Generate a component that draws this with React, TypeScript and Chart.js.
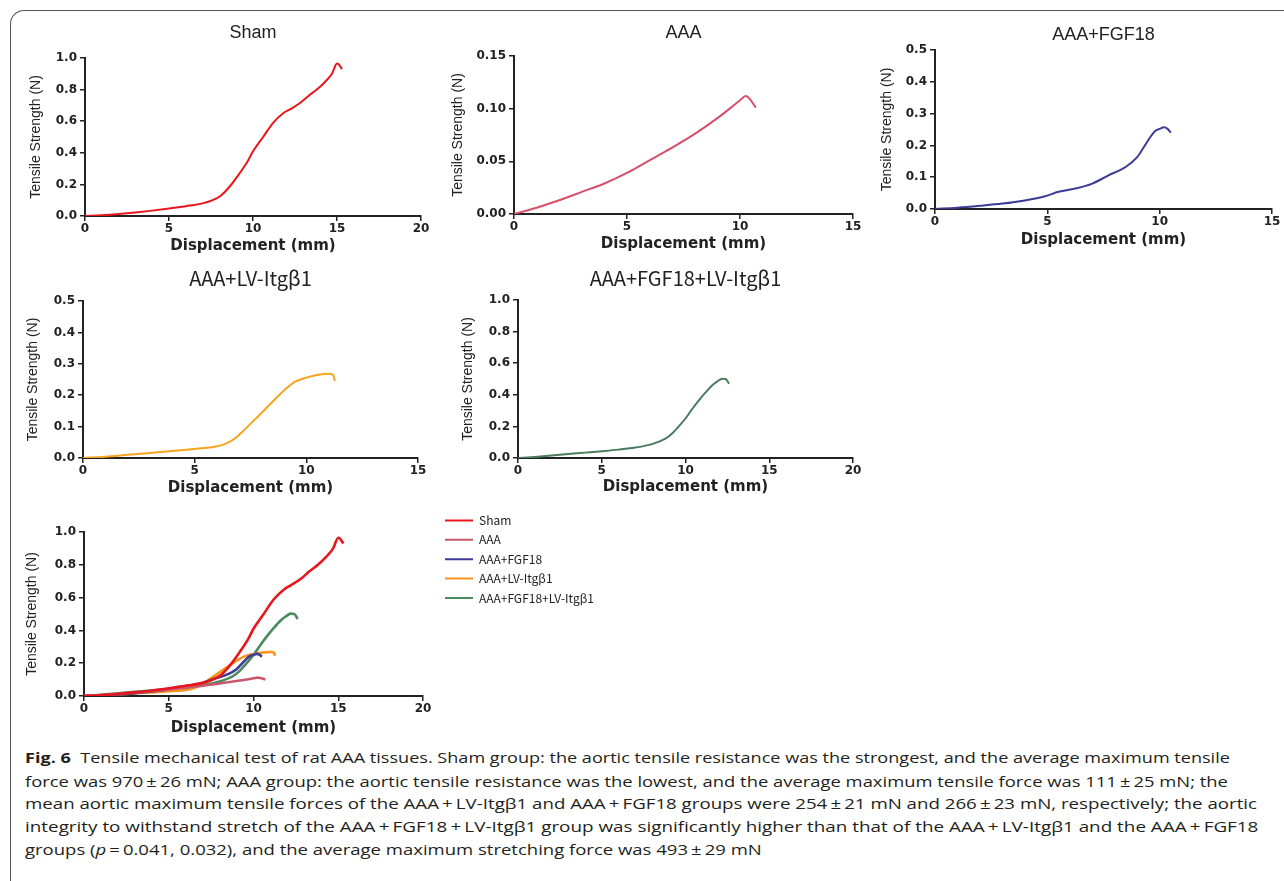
import React, { useEffect, useLayoutEffect, useRef } from 'react';
import { Chart, registerables } from 'chart.js';

Chart.register(...registerables);

// ---------------- data ----------------
const shamX = [0, 1, 2, 3, 4, 5, 6, 7, 7.6, 8.1, 8.6, 9.2, 9.7, 10.0, 10.6, 11.2, 11.8, 12.2, 12.8, 13.3, 13.8, 14.3, 14.7, 15.0, 15.1, 15.3];
const shamY = [0, 0.004, 0.012, 0.022, 0.034, 0.047, 0.062, 0.08, 0.1, 0.13, 0.185, 0.27, 0.35, 0.41, 0.5, 0.59, 0.65, 0.675, 0.715, 0.76, 0.8, 0.85, 0.9, 0.965, 0.96, 0.93];

const aaaX = [0, 1, 2, 3, 4, 5, 6, 7, 8, 9, 9.6, 10.0, 10.25, 10.4, 10.7];
const aaaY = [0, 0.006, 0.013, 0.021, 0.029, 0.039, 0.051, 0.063, 0.076, 0.091, 0.101, 0.108, 0.112, 0.11, 0.101];

const fgfX = [0, 1, 2, 3, 4, 4.9, 5.5, 6.3, 7.0, 7.7, 8.5, 9.0, 9.3, 9.6, 9.8, 10.0, 10.2, 10.35, 10.5];
const fgfY = [0, 0.004, 0.01, 0.017, 0.027, 0.04, 0.054, 0.065, 0.08, 0.105, 0.133, 0.163, 0.195, 0.228, 0.245, 0.252, 0.257, 0.252, 0.24];

const lvX = [0, 1, 2, 3, 4, 5, 5.9, 6.4, 6.8, 7.2, 7.8, 8.4, 9.0, 9.5, 10.0, 10.6, 11.0, 11.2, 11.28];
const lvY = [0, 0.004, 0.01, 0.016, 0.022, 0.029, 0.036, 0.046, 0.062, 0.088, 0.13, 0.173, 0.215, 0.243, 0.256, 0.266, 0.268, 0.264, 0.245];

const comboX = [0, 1, 2, 3, 4, 5, 6, 7, 8, 8.8, 9.2, 9.6, 10.0, 10.4, 10.8, 11.2, 11.6, 11.9, 12.2, 12.4, 12.6];
const comboY = [0, 0.007, 0.016, 0.025, 0.034, 0.043, 0.053, 0.066, 0.088, 0.122, 0.155, 0.2, 0.25, 0.31, 0.365, 0.415, 0.46, 0.485, 0.502, 0.5, 0.47];

const seriesLabels = ['Sham', 'AAA', 'AAA+FGF18', 'AAA+LV-Itgβ1', 'AAA+FGF18+LV-Itgβ1'];
const panelTitles = ['Sham', 'AAA', 'AAA+FGF18', 'AAA+LV-Itgβ1', 'AAA+FGF18+LV-Itgβ1'];
const xMaxes = [20, 15, 15, 15, 20, 20];
const yMaxes = [1, 0.15, 0.5, 0.5, 1, 1];
const ySteps = [0.2, 0.05, 0.1, 0.1, 0.2, 0.2];
const yDecimals = [1, 2, 1, 1, 1, 1];
const xStep = 5;
const xAxisTitle = 'Displacement (mm)';
const yAxisTitle = 'Tensile Strength (N)';

const captionBold = 'Fig. 6';
const captionLines = [
  '\u00a0\u00a0Tensile mechanical test of rat AAA tissues. Sham group: the aortic tensile resistance was the strongest, and the average maximum tensile',
  'force was 970\u2009±\u200926 mN; AAA group: the aortic tensile resistance was the lowest, and the average maximum tensile force was 111\u2009±\u200925 mN; the',
  'mean aortic maximum tensile forces of the AAA\u2009+\u2009LV-Itgβ1 and AAA\u2009+\u2009FGF18 groups were 254\u2009±\u200921 mN and 266\u2009±\u200923 mN, respectively; the aortic',
  'integrity to withstand stretch of the AAA\u2009+\u2009FGF18\u2009+\u2009LV-Itgβ1 group was significantly higher than that of the AAA\u2009+\u2009LV-Itgβ1 and the AAA\u2009+\u2009FGF18',
];
const captionLastPre = 'groups (';
const captionLastItalic = 'p';
const captionLastPost = '\u2009=\u20090.041, 0.032), and the average maximum stretching force was 493\u2009±\u200929 mN';

// ---------------- styles / layout ----------------
const panelColors = ['#e8161c', '#d5506a', '#3d3b95', '#f6a31d', '#4b7b5e'];
const comboColors = ['#e8161c', '#c9576b', '#3d3b95', '#f7941d', '#4b8a5f'];

type Series = { label: string; xs: number[]; ys: number[]; color: string };
interface PanelSpec {
  key: string;
  L: number; R: number; T: number; B: number;
  idx: number;
  title: string | null;
  titleFamily: string; titleSize: number; titleCenterY: number;
  yAxisW: number; xTitleOffset: number;
  series: Series[]; lineWidth: number;
  legend: boolean;
}

const ARIAL = "'Liberation Sans', Arial, sans-serif";
const CJK = "'Noto Sans CJK SC', 'Noto Sans', sans-serif";
const DEJAVU = "'DejaVu Sans', sans-serif";
const LEGEND_FONT_SIZE = 12;
const LEGEND_PAD = 7.4;

const allXs = [shamX, aaaX, fgfX, lvX, comboX];
const allYs = [shamY, aaaY, fgfY, lvY, comboY];

const panels: PanelSpec[] = [
  { key: 'p1', idx: 0, L: 85, R: 421, T: 58, B: 216, title: panelTitles[0], titleFamily: ARIAL, titleSize: 18, titleCenterY: 33, yAxisW: 57, xTitleOffset: 30, lineWidth: 2, legend: false,
    series: [{ label: seriesLabels[0], xs: shamX, ys: shamY, color: panelColors[0] }] },
  { key: 'p2', idx: 1, L: 514, R: 853, T: 56, B: 214, title: panelTitles[1], titleFamily: ARIAL, titleSize: 18, titleCenterY: 33, yAxisW: 64, xTitleOffset: 30, lineWidth: 2, legend: false,
    series: [{ label: seriesLabels[1], xs: aaaX, ys: aaaY, color: panelColors[1] }] },
  { key: 'p3', idx: 2, L: 935, R: 1272, T: 50, B: 209, title: panelTitles[2], titleFamily: ARIAL, titleSize: 18, titleCenterY: 35, yAxisW: 56, xTitleOffset: 31, lineWidth: 2, legend: false,
    series: [{ label: seriesLabels[2], xs: fgfX, ys: fgfY, color: panelColors[2] }] },
  { key: 'p4', idx: 3, L: 83, R: 418, T: 301, B: 458, title: panelTitles[3], titleFamily: CJK, titleSize: 20, titleCenterY: 278, yAxisW: 58, xTitleOffset: 30, lineWidth: 2, legend: false,
    series: [{ label: seriesLabels[3], xs: lvX, ys: lvY, color: panelColors[3] }] },
  { key: 'p5', idx: 4, L: 518, R: 853, T: 300, B: 458, title: panelTitles[4], titleFamily: CJK, titleSize: 20, titleCenterY: 278, yAxisW: 58, xTitleOffset: 29, lineWidth: 2, legend: false,
    series: [{ label: seriesLabels[4], xs: comboX, ys: comboY, color: panelColors[4] }] },
  { key: 'p6', idx: 5, L: 84, R: 423, T: 532, B: 696, title: null, titleFamily: ARIAL, titleSize: 10, titleCenterY: 0, yAxisW: 60, xTitleOffset: 32, lineWidth: 2.6, legend: true,
    series: seriesLabels.map((label, i) => ({ label, xs: allXs[i], ys: allYs[i], color: comboColors[i] })) },
];

const COMBO_TOP = 507;
const COMBO_WIDTH = 640;
const SPACER_W = 14.6;

function measureLegendWidth(): number {
  const ctx = document.createElement('canvas').getContext('2d');
  if (!ctx) return 130;
  ctx.font = `${LEGEND_FONT_SIZE}px ${CJK}`;
  const w = Math.max(...seriesLabels.map((l) => ctx.measureText(l).width));
  return Math.ceil(w) + 48;
}

function geometry(p: PanelSpec) {
  const cl = p.L - p.yAxisW;
  const ct = p.legend ? COMBO_TOP : Math.round(p.titleCenterY - 0.6 * p.titleSize);
  const width = p.legend ? COMBO_WIDTH : p.R + 14 - cl;
  const xAxisH = p.xTitleOffset + 9;
  const height = p.B + xAxisH - ct;
  return { cl, ct, width, height, xAxisH };
}

function buildConfig(p: PanelSpec): any {
  const g = geometry(p);
  const tickFont = { family: DEJAVU, weight: 'bold', size: 12, lineHeight: 1.2 };
  const axisColor = '#222';
  const datasets = p.series.map((s) => ({
    label: s.label,
    data: s.xs.map((x, i) => ({ x, y: s.ys[i] })),
    borderColor: s.color,
    backgroundColor: s.color,
    borderWidth: p.lineWidth,
    pointRadius: 0,
    pointHoverRadius: 0,
    cubicInterpolationMode: 'monotone',
    fill: false,
  }));
  const dec = yDecimals[p.idx];
  const scales: any = {
    x: {
      type: 'linear',
      min: 0,
      max: xMaxes[p.idx],
      ticks: { stepSize: xStep, font: tickFont, color: axisColor, padding: 1, maxRotation: 0, autoSkip: false },
      grid: { display: true, drawOnChartArea: false, drawTicks: true, tickLength: 5, color: axisColor, lineWidth: 1.5 },
      border: { display: true, color: axisColor, width: 2 },
      title: { display: true, text: xAxisTitle, color: axisColor, padding: 0, font: { family: DEJAVU, weight: 'bold', size: 15, lineHeight: 1.2 } },
      afterFit: (s: any) => { s.height = g.xAxisH; },
    },
    y: {
      type: 'linear',
      min: 0,
      max: yMaxes[p.idx],
      ticks: { stepSize: ySteps[p.idx], font: tickFont, color: axisColor, padding: 3, callback: (v: any) => Number(v).toFixed(dec) },
      grid: { display: true, drawOnChartArea: false, drawTicks: true, tickLength: 5, color: axisColor, lineWidth: 1.5 },
      border: { display: true, color: axisColor, width: 2 },
      title: { display: true, text: yAxisTitle, color: axisColor, padding: 0, font: { family: ARIAL, size: 14, lineHeight: 1.2 } },
      afterFit: (s: any) => { s.width = p.yAxisW; },
    },
  };
  if (p.legend) {
    scales.y2 = {
      type: 'linear',
      position: 'right',
      display: true,
      grid: { display: false, drawTicks: false },
      border: { display: false },
      ticks: { display: false },
      afterFit: (s: any) => { s.width = SPACER_W; },
    };
  }
  const title = p.legend
    ? { display: true, text: '', fullSize: false, font: { size: 10, lineHeight: 1.2 }, padding: { top: 0, bottom: p.T - g.ct - 12 } }
    : {
        display: true, text: p.title, fullSize: false, color: '#222',
        font: { family: p.titleFamily, size: p.titleSize, weight: 'normal', lineHeight: 1.2 },
        padding: { top: 0, bottom: p.T - g.ct - 1.2 * p.titleSize },
      };
  const legendW = p.legend ? measureLegendWidth() : 0;
  const rightPad = p.legend ? g.width - (p.R - g.cl) - SPACER_W - legendW : 14;
  return {
    type: 'line',
    data: { datasets },
    options: {
      responsive: false,
      animation: false,
      devicePixelRatio: 1,
      layout: { padding: { left: 0, top: 0, right: rightPad, bottom: 0 } },
      scales,
      plugins: {
        tooltip: { enabled: false },
        title,
        legend: p.legend
          ? {
              display: true,
              position: 'right',
              align: 'start',
              maxWidth: legendW,
              labels: {
                boxWidth: 28,
                boxHeight: 2,
                padding: LEGEND_PAD,
                color: '#222',
                font: { family: CJK, size: LEGEND_FONT_SIZE },
                generateLabels: (chart: any) =>
                  (Chart.defaults.plugins.legend.labels.generateLabels as any)(chart).map((l: any) => ({ ...l, fillStyle: l.strokeStyle, lineWidth: 0 })),
              },
            }
          : { display: false },
      },
    },
  };
}

function Panel({ spec }: { spec: PanelSpec }) {
  const ref = useRef<HTMLCanvasElement | null>(null);
  const g = geometry(spec);
  useEffect(() => {
    if (!ref.current) return;
    const chart = new Chart(ref.current, buildConfig(spec));
    return () => chart.destroy();
  }, []);
  return (
    <canvas
      ref={ref}
      width={g.width}
      height={g.height}
      style={{ position: 'absolute', left: g.cl, top: g.ct, width: g.width, height: g.height }}
    />
  );
}

const captionLeft = 25;
const captionCenters = [757, 780.5, 803, 826, 848.5];
const captionWidths = [1205, 1203, 1232, 1233];

function Caption() {
  const refs = useRef<(HTMLSpanElement | null)[]>([]);
  useLayoutEffect(() => {
    const factors: number[] = [];
    refs.current.forEach((el, i) => {
      if (!el) return;
      const nat = el.offsetWidth;
      if (i < captionWidths.length && nat > 0) {
        const f = captionWidths[i] / nat;
        factors.push(f);
        el.style.transform = `scaleX(${f})`;
      }
    });
    const last = refs.current[captionWidths.length];
    if (last && factors.length) {
      const avg = factors.reduce((a, b) => a + b, 0) / factors.length;
      last.style.transform = `scaleX(${avg})`;
    }
  }, []);
  const lineStyle = (i: number): React.CSSProperties => ({
    position: 'absolute',
    left: captionLeft,
    top: captionCenters[i] - 11,
    height: 22,
    lineHeight: '22px',
    whiteSpace: 'nowrap',
    display: 'inline-block',
    transformOrigin: '0 50%',
    fontFamily: "'Open Sans', 'Noto Sans', sans-serif",
    fontSize: 15,
    color: '#231f20',
  });
  return (
    <>
      {captionLines.map((t, i) => (
        <span key={i} ref={(el) => { refs.current[i] = el; }} style={lineStyle(i)}>
          {i === 0 ? <b style={{ fontWeight: 700 }}>{captionBold}</b> : null}
          {t}
        </span>
      ))}
      <span ref={(el) => { refs.current[4] = el; }} style={lineStyle(4)}>
        {captionLastPre}
        <i>{captionLastItalic}</i>
        {captionLastPost}
      </span>
    </>
  );
}

export default function App() {
  return (
    <div style={{ position: 'absolute', left: 0, top: 0, width: 1284, height: 881, overflow: 'hidden', background: '#fff' }}>
      <div
        style={{
          position: 'absolute', left: 10, top: 10, width: 1320, height: 900,
          borderLeft: '1.5px solid #555', borderTop: '1.5px solid #555', borderTopLeftRadius: 14,
          boxSizing: 'border-box',
        }}
      />
      {panels.map((p) => (
        <Panel key={p.key} spec={p} />
      ))}
      <Caption />
    </div>
  );
}
